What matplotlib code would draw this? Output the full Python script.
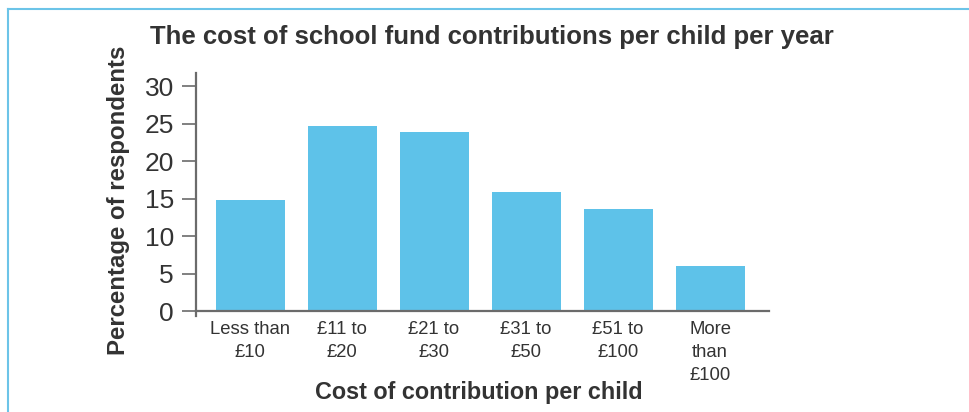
import matplotlib.pyplot as plt
from matplotlib.lines import Line2D

plt.rcParams['font.family'] = ['Liberation Sans', 'DejaVu Sans']

categories = ['Less than\n£10', '£11 to\n£20', '£21 to\n£30', '£31 to\n£50', '£51 to\n£100', 'More\nthan\n£100']
values = [14.8, 24.7, 23.9, 15.9, 13.6, 6.0]
yticks = [0, 5, 10, 15, 20, 25, 30]

W, H = 969, 412
fig = plt.figure(figsize=(W / 100, H / 100), dpi=100)

# axes box in pixel terms
left, right, top, bottom = 196, 769, 73, 316
ax = fig.add_axes([left / W, 1 - bottom / H, (right - left) / W, (bottom - top) / H])

bar_col = '#5EC2E9'
axis_col = '#6b6b6b'
text_col = '#333333'

x = list(range(len(categories)))
ax.bar(x, values, width=0.75, color=bar_col, zorder=2)

ax.set_ylim(-0.65, 31.75)
ax.set_xlim(-0.587, 5.64)
ax.tick_params(axis='x', length=0)
ax.tick_params(axis='y', length=10, width=1.2, color=axis_col, pad=6)
ax.set_yticks(yticks)
ax.set_yticklabels([str(t) for t in yticks], fontsize=19, color=text_col)
ax.set_xticks(x)
ax.set_xticklabels([''] * len(x))
# category labels drawn as text so the line spacing sticks
for xi, lab in zip(x, categories):
    ax.text(xi, -1.35, lab, ha='center', va='top', fontsize=13.3, color=text_col,
            linespacing=1.45, clip_on=False)

for s in ['top', 'right']:
    ax.spines[s].set_visible(False)
ax.spines['bottom'].set_position(('data', 0))
for s in ['left', 'bottom']:
    ax.spines[s].set_color(axis_col)
    ax.spines[s].set_linewidth(1.6)

fig.text(118 / W, 1 - 200 / H, 'Percentage of respondents', fontsize=17.3, rotation=90,
         fontweight='bold', color=text_col, ha='center', va='center')
fig.text(479 / W, 1 - 393 / H, 'Cost of contribution per child', fontsize=16.8,
         fontweight='bold', color=text_col, ha='center', va='center')
fig.text(150 / W, 1 - 37 / H, 'The cost of school fund contributions per child per year',
         fontsize=18.5, fontweight='bold', color=text_col, ha='left', va='center')

# blue frame on top and left
frame_col = '#6CC4E8'
fig.add_artist(Line2D([8 / W, 1], [1 - 9 / H, 1 - 9 / H], color=frame_col, lw=1.5, transform=fig.transFigure))
fig.add_artist(Line2D([8 / W, 8 / W], [0, 1 - 9 / H], color=frame_col, lw=1.5, transform=fig.transFigure))

fig.savefig('out.png', dpi=100)
